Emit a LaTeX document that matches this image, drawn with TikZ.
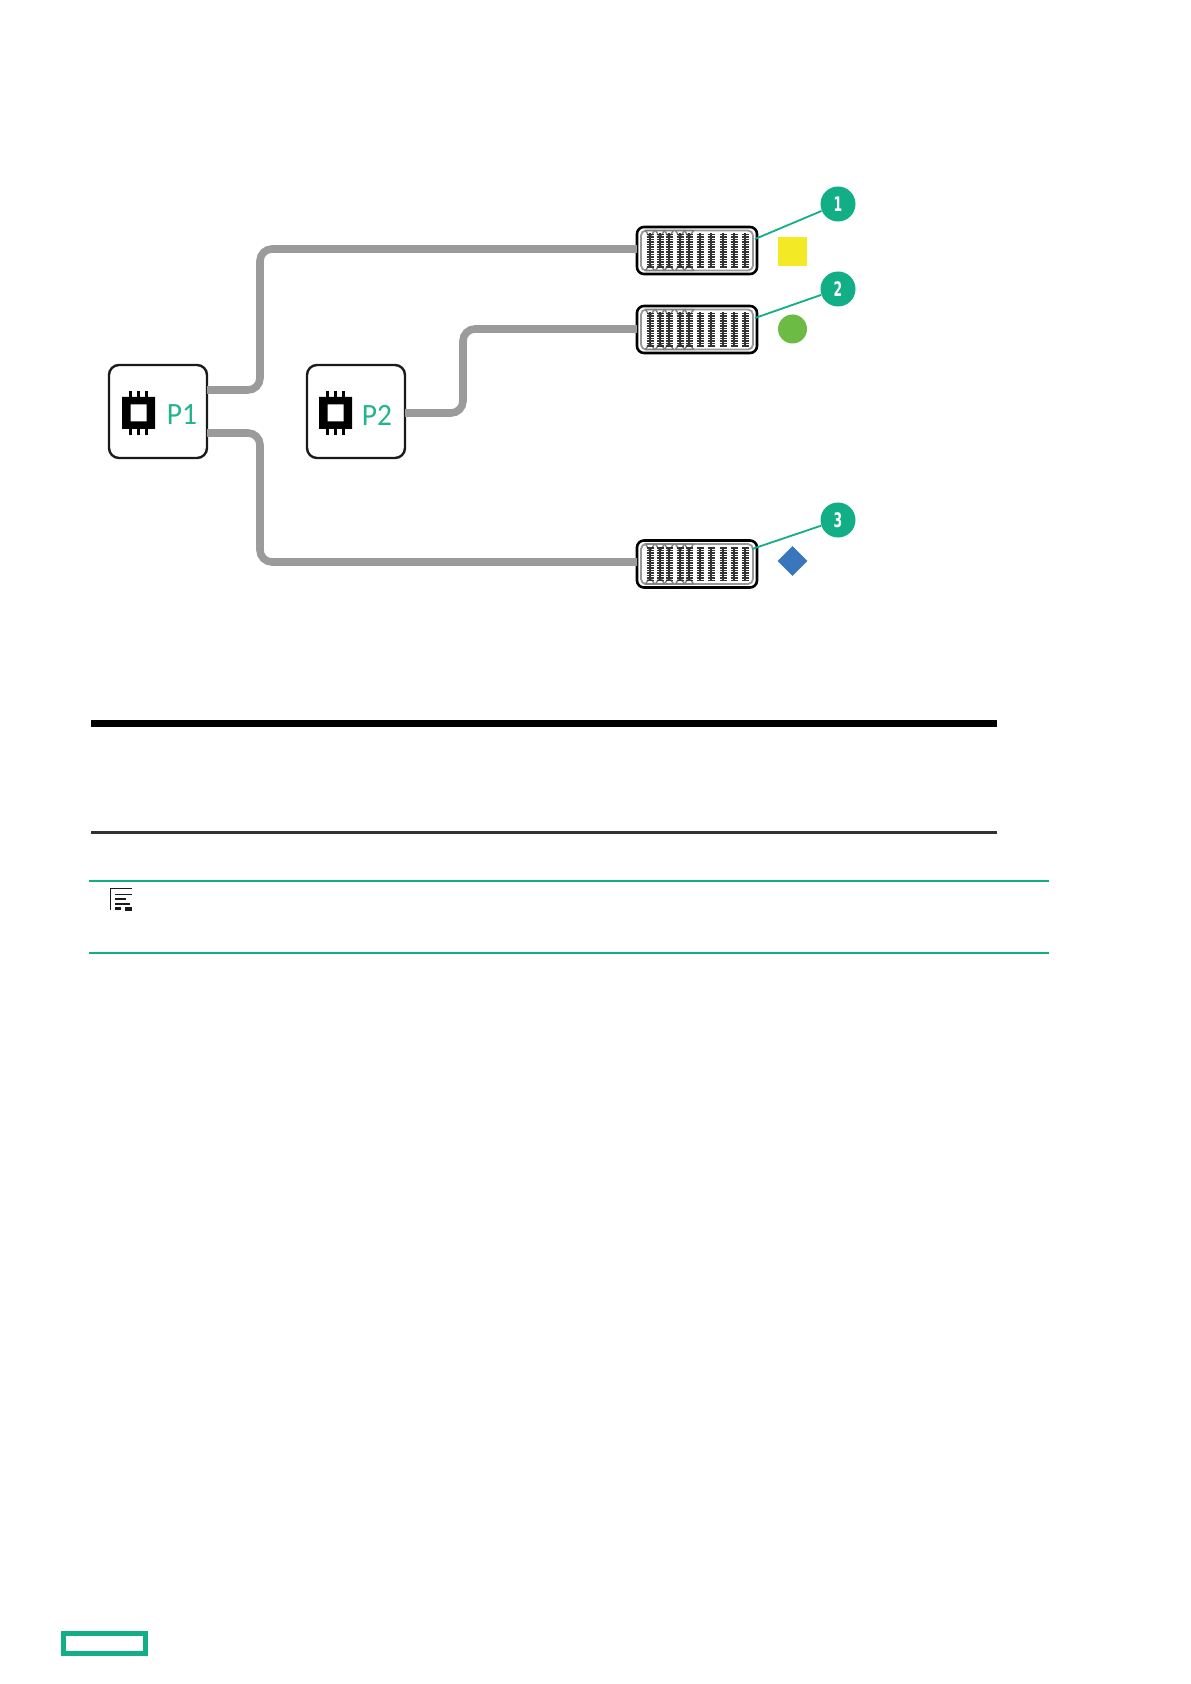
\documentclass[tikz,border=0pt]{standalone}
\usepackage{fontspec}
\setmainfont{Carlito}
\newfontfamily\digitfont{DejaVu Sans}
\usetikzlibrary{shapes.geometric}
\definecolor{hpe}{HTML}{12AE86}
\definecolor{ptext}{HTML}{22B48F}
\definecolor{bus}{HTML}{9B9B9B}
\definecolor{ink}{HTML}{1A1A1A}
\definecolor{mark1}{HTML}{F4E925}
\definecolor{mark2}{HTML}{6CBB45}
\definecolor{mark3}{HTML}{3A76BC}
\newcommand{\bankteeth}[1]{%
  \begin{scope}[shift={(#1.center)}]
    \draw[gray!80,line width=0.9pt,rounded corners=2.5pt] (-56,-20) rectangle (56,20);
    \foreach \c in {-47,-37,-28,-17,-8}{
      \draw[gray,line width=0.7pt] (\c-4.5,-20) -- (\c+4.5,-20) -- (\c,-13) -- cycle;
      \draw[gray,line width=0.7pt] (\c-4.5,20) -- (\c+4.5,20) -- (\c,13) -- cycle;
    }
    \foreach \c in {-47,-37,-28,-17,-8,3,14,26,37,48}{
      \draw[tooth,line width=1.2pt] (\c,-17) -- (\c,17);
      \foreach \t in {-16,-13.5,...,16.5}{
        \draw[tooth,line width=0.8pt] (\c-3.5,\t) -- (\c+3.5,\t);
      }
    }
  \end{scope}}
\newcommand{\chipicon}[1]{%
  \begin{scope}[shift={(#1)}]
    \fill[black,even odd rule] (-16.5,-16) rectangle (16.5,16) (-8,-8.5) rectangle (8,8.5);
    \foreach \c in {-8,0,8}{
      \fill[black] (\c-1.4,-22) rectangle (\c+1.4,-16);
      \fill[black] (\c-1.4,16) rectangle (\c+1.4,22);
    }
  \end{scope}}
\tikzset{
  x=0.5pt,y=-0.5pt,
  cpu/.style={draw=ink,line width=1.2pt,rounded corners=5pt,minimum width=49pt,minimum height=46.5pt,fill=white,inner sep=0pt},
  cpulabel/.style={text=ptext,font=\fontsize{15.5}{15.5}\selectfont,inner sep=0pt,xscale=0.95},
  bank/.style={draw=black,line width=1.3pt,rounded corners=3.5pt,minimum width=60pt,minimum height=23.5pt,fill=white,inner sep=0pt},
  tooth/.style={draw=black!80},
  buswire/.style={draw=bus,line width=3.8pt,rounded corners=6pt},
  callout/.style={circle,fill=hpe,minimum size=17.5pt,inner sep=0pt},
  calloutnum/.style={text=white,font=\digitfont\fontsize{10}{10}\selectfont\bfseries,inner sep=0pt,xscale=0.62},
  leader/.style={draw=hpe,line width=0.9pt},
  heavyrule/.style={draw=black,line width=3.5pt},
  midrule/.style={draw=ink!90,line width=1.8pt},
  noterule/.style={draw=hpe,line width=1pt},
}
\begin{document}
\begin{tikzpicture}
\useasboundingbox[fill=white] (0,0) rectangle (1190,1684);
% nodes
\node[cpu] (p1) at (158,411.5) {};
\node[cpu] (p2) at (356,411.5) {};
\node[bank] (b1) at (697,250.5) {};
\node[bank] (b2) at (697,329.5) {};
\node[bank] (b3) at (697,564) {};
% buses
\coordinate (p1up) at (207,390);
\coordinate (p1dn) at (207,433);
\coordinate (p2out) at (405,413);
\coordinate (b1in) at (637,249);
\coordinate (b2in) at (637,329);
\coordinate (b3in) at (637,562);
\draw[buswire] (p1up) -- (260,390) -- (260,249) -- (b1in);
\draw[buswire] (p1dn) -- (260,433) -- (260,562) -- (b3in);
\draw[buswire] (p2out) -- (463,413) -- (463,329) -- (b2in);
% cpu contents
\chipicon{138.5,413}
\chipicon{335.5,413}
\node[cpulabel] (l1) at (182,415) {P1};
\node[cpulabel] (l2) at (377,415) {P2};
% banks contents
\bankteeth{b1}
\bankteeth{b2}
\bankteeth{b3}
% markers
\node[fill=mark1,minimum size=14.5pt,inner sep=0pt] (m1) at (792.5,252) {};
\node[circle,fill=mark2,minimum size=14.5pt,inner sep=0pt] (m2) at (792.5,329) {};
\node[diamond,fill=mark3,minimum size=15pt,inner sep=0pt] (m3) at (792.5,561) {};
% callouts
\node[callout] (c1) at (838,204) {};
\node[callout] (c2) at (838,289) {};
\node[callout] (c3) at (838,520) {};
\node[calloutnum] (d1) at (838,204) {1};
\node[calloutnum] (d2) at (838,289) {2};
\node[calloutnum] (d3) at (838,520) {3};
\coordinate (t1) at (755,239);
\coordinate (t2) at (755,318);
\coordinate (t3) at (752,549);
\draw[leader] (t1) -- (c1);
\draw[leader] (t2) -- (c2);
\draw[leader] (t3) -- (c3);
% table rules
\coordinate (r1a) at (91,723.5); \coordinate (r1b) at (997,723.5);
\coordinate (r2a) at (91,832.5); \coordinate (r2b) at (997,832.5);
\coordinate (n1a) at (89,880.5); \coordinate (n1b) at (1049,880.5);
\coordinate (n2a) at (89,952.5); \coordinate (n2b) at (1049,952.5);
\draw[heavyrule] (r1a) -- (r1b);
\draw[midrule] (r2a) -- (r2b);
\draw[noterule] (n1a) -- (n1b);
\draw[noterule] (n2a) -- (n2b);
% note icon
\draw[ink,line width=0.9pt] (110.5,910) -- (110.5,888.5) -- (132,888.5);
\draw[ink,line width=0.9pt] (115,894.5) -- (132,894.5);
\draw[ink,line width=1pt] (115,899) -- (126,899);
\draw[ink,line width=1pt] (115,904) -- (130,904);
\draw[ink,line width=1.1pt] (115,908.5) -- (121,908.5);
\fill[ink] (125,907) rectangle (132,911);
% footer logo
\node[draw=hpe,line width=2.5pt,minimum width=41pt,minimum height=10pt,fill=white,inner sep=0pt] (logo) at (104,1643.5) {};
\end{tikzpicture}
\end{document}
